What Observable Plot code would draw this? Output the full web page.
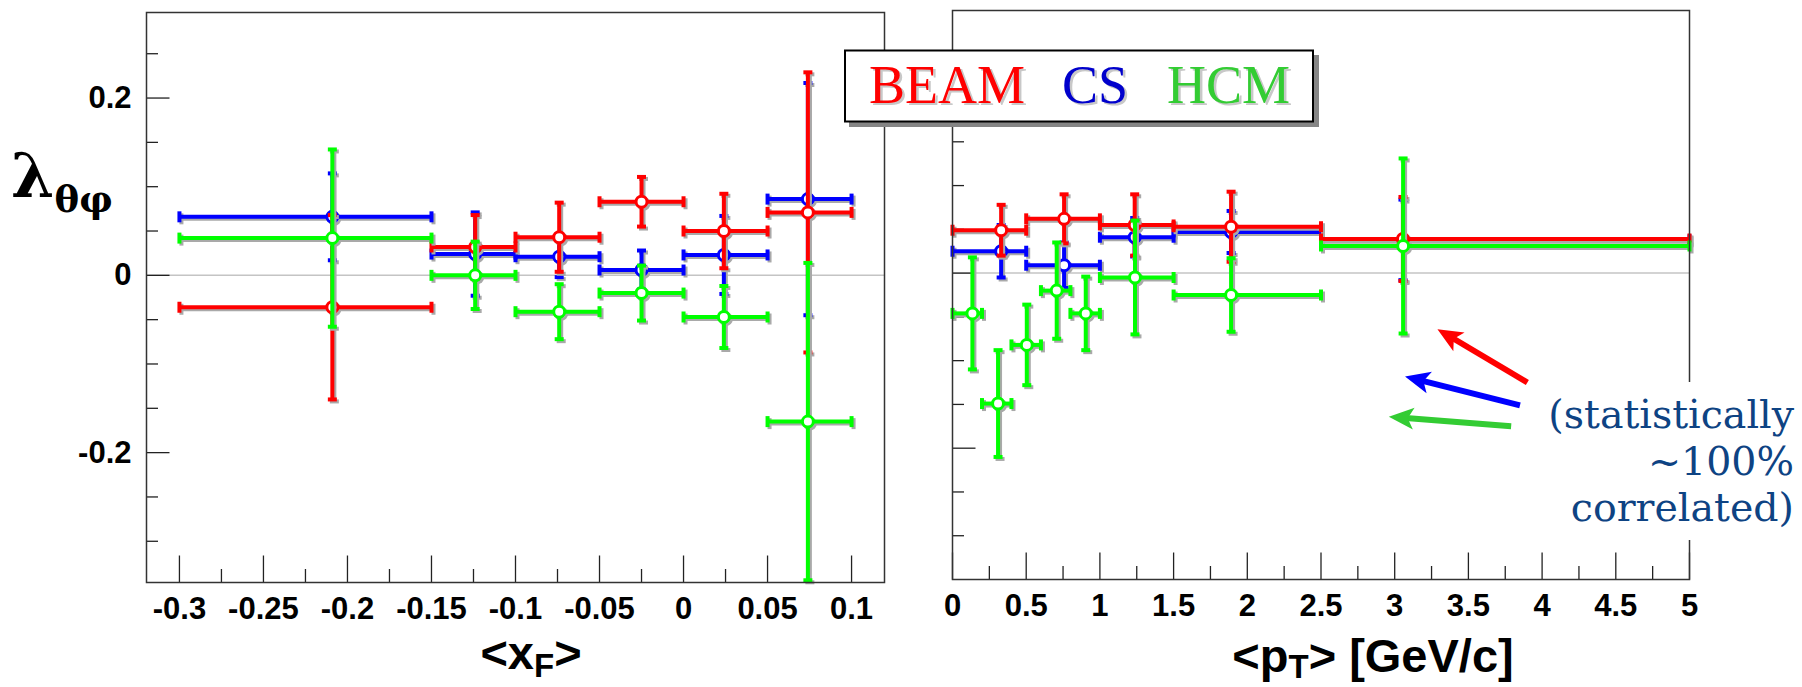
<!DOCTYPE html>
<html>
<head>
<meta charset="utf-8">
<script src="https://cdn.jsdelivr.net/npm/d3@7"></script>
<script src="https://cdn.jsdelivr.net/npm/@observablehq/plot@0.6"></script>
<style>
html, body { margin: 0; padding: 0; background: #fff; }
#wrap { position: relative; width: 1802px; height: 687px; overflow: hidden; background: #fff; }
#wrap > svg { position: absolute; }
</style>
</head>
<body>
<div id="wrap"></div>
<script>
// ---------------- DATA ----------------
// Left panel: lambda_theta_phi vs <xF>
const xfCenters = [-0.209, -0.124, -0.074, -0.025, 0.024, 0.074];
const xfLow     = [-0.30, -0.15, -0.10, -0.05, 0.00, 0.05];
const xfHigh    = [-0.15, -0.10, -0.05, 0.00, 0.05, 0.10];
const beamXF    = [-0.036, 0.032, 0.043, 0.083, 0.050, 0.071];
const beamXFerr = [0.104, 0.036, 0.039, 0.028, 0.042, 0.158];
const csXF      = [0.066, 0.024, 0.021, 0.006, 0.023, 0.086];
const csXFerr   = [0.049, 0.047, 0.023, 0.022, 0.044, 0.131];
const hcmXF     = [0.042, 0.000, -0.041, -0.020, -0.047, -0.165];
const hcmXFerr  = [0.100, 0.038, 0.031, 0.031, 0.035, 0.179];

// Right panel: lambda_theta_phi vs <pT>
const ptCenters   = [0.330, 0.757, 1.236, 1.890, 3.056];
const ptLow       = [0.0, 0.5, 1.0, 1.5, 2.5];
const ptHigh      = [0.5, 1.0, 1.5, 2.5, 5.0];
const beamPT      = [0.049, 0.062, 0.055, 0.053, 0.039];
const beamPTerr   = [0.029, 0.028, 0.035, 0.040, 0.048];
const csPT        = [0.025, 0.009, 0.041, 0.047, 0.038];
const csPTerr     = [0.030, 0.026, 0.022, 0.024, 0.046];
const hcmPtCenters = [0.135, 0.309, 0.504, 0.707, 0.904, 1.238, 1.890, 3.057];
const hcmPtLow     = [0.0, 0.2, 0.4, 0.6, 0.8, 1.0, 1.5, 2.5];
const hcmPtHigh    = [0.2, 0.4, 0.6, 0.8, 1.0, 1.5, 2.5, 5.0];
const hcmPT        = [-0.046, -0.149, -0.082, -0.020, -0.046, -0.005, -0.025, 0.031];
const hcmPTerr     = [0.064, 0.061, 0.046, 0.055, 0.042, 0.065, 0.042, 0.100];

// Tick values
const xfTickLabels  = [-0.3, -0.25, -0.2, -0.15, -0.1, -0.05, 0, 0.05, 0.1];
const xfMinorTicks  = [-0.275, -0.225, -0.175, -0.125, -0.075, -0.025, 0.025, 0.075];
const ptTickLabels  = [0, 0.5, 1, 1.5, 2, 2.5, 3, 3.5, 4, 4.5, 5];
const ptMinorTicks  = [0.25, 0.75, 1.25, 1.75, 2.25, 2.75, 3.25, 3.75, 4.25, 4.75];
const lamTickLabels = [-0.2, 0, 0.2];
const lamMinorTicks = [-0.3, -0.25, -0.15, -0.1, -0.05, 0.05, 0.1, 0.15, 0.25];

// Legend / annotation
const seriesNames  = ["BEAM", "CS", "HCM"];
const legendColors = ["#ff0000", "#0000cc", "#33cc33"];
const markColors   = {BEAM: "#ff0000", CS: "#0000ff", HCM: "#00ff00"};
const noteLines    = ["(statistically", "~100%", "correlated)"];
// arrows in right-panel data coordinates (pT, lambda)
const arrowTailPT  = [3.90, 3.85, 3.79];
const arrowTailLam = [-0.125, -0.151, -0.175];
const arrowTipPT   = [3.29, 3.07, 2.96];
const arrowTipLam  = [-0.064, -0.118, -0.164];
const arrowColors  = ["#ff0000", "#0000ff", "#33cc33"];

// ---------------- HELPERS ----------------
function rowsOf(xc, lo, hi, y, e) {
  return xc.map((x, i) => ({x, lo: lo[i], hi: hi[i], y: y[i], ylo: y[i] - e[i], yhi: y[i] + e[i]}));
}
const vcap = {draw(c) { c.moveTo(0, -5.5); c.lineTo(0, 5.5); }};
const hcap = {draw(c) { c.moveTo(-4.5, 0); c.lineTo(4.5, 0); }};
function tickSym(dx, dy, len) { return {draw(c) { c.moveTo(0, 0); c.lineTo(dx * len, dy * len); }}; }

function errMarks(rows, color, shadow) {
  const o = shadow ? {stroke: "#a9a9a9", dx: 2, dy: 2} : {stroke: color};
  return [
    Plot.ruleY(rows, {y: "y", x1: "lo", x2: "hi", strokeWidth: 4, ...o}),
    Plot.ruleX(rows, {x: "x", y1: "ylo", y2: "yhi", strokeWidth: 4, ...o}),
    Plot.dot(rows, {x: "lo", y: "y", symbol: vcap, fill: "none", strokeWidth: 4, ...o}),
    Plot.dot(rows, {x: "hi", y: "y", symbol: vcap, fill: "none", strokeWidth: 4, ...o}),
    Plot.dot(rows, {x: "x", y: "ylo", symbol: hcap, fill: "none", strokeWidth: 4, ...o}),
    Plot.dot(rows, {x: "x", y: "yhi", symbol: hcap, fill: "none", strokeWidth: 4, ...o}),
    Plot.dot(rows, {x: "x", y: "y", r: 5.5, fill: shadow ? "none" : "white", strokeWidth: 3, ...o})
  ];
}
function seriesMarks(rows, color) { return [...errMarks(rows, color, true), ...errMarks(rows, color, false)]; }

function frameTicks(xdom, ydom, xMajor, xMinor, yMajor, yMinor) {
  const s = {fill: "none", stroke: "#222", strokeWidth: 1.3};
  return [
    Plot.dot(yMajor, {x: () => xdom[0], y: d => d, symbol: tickSym(1, 0, 23), ...s}),
    Plot.dot(yMinor, {x: () => xdom[0], y: d => d, symbol: tickSym(1, 0, 11.5), ...s}),
    Plot.dot(xMajor, {x: d => d, y: () => ydom[0], symbol: tickSym(0, -1, 27), ...s}),
    Plot.dot(xMinor, {x: d => d, y: () => ydom[0], symbol: tickSym(0, -1, 13.5), ...s})
  ];
}

const wrap = document.getElementById("wrap");
const H = 687;
const tickStyle = {fontFamily: "'Liberation Sans', Arial, sans-serif", fontSize: "31px", fontWeight: "bold", color: "#000", background: "transparent", overflow: "visible"};

// ---------------- LEFT PANEL ----------------
const L = {W: 900, ml: 146, mr: 16, mt: 12, mb: 105, xdom: [-0.3196, 0.1196], ydom: [-0.3465, 0.2965]};
const leftPlot = Plot.plot({
  width: L.W, height: H,
  marginLeft: L.ml, marginRight: L.mr, marginTop: L.mt, marginBottom: L.mb,
  x: {domain: L.xdom, label: null, axis: null},
  y: {domain: L.ydom, label: null, axis: null},
  style: tickStyle,
  marks: [
    Plot.ruleY([0], {stroke: "#c4c4c4", strokeWidth: 1.5}),
    ...frameTicks(L.xdom, L.ydom, xfTickLabels, xfMinorTicks, lamTickLabels, lamMinorTicks),
    Plot.axisX(xfTickLabels, {anchor: "bottom", tickSize: 0, tickPadding: 14, tickFormat: d => String(d), label: null}),
    Plot.axisY(lamTickLabels, {anchor: "left", tickSize: 0, tickPadding: 15, tickFormat: d => String(d), label: null}),
    ...seriesMarks(rowsOf(xfCenters, xfLow, xfHigh, csXF, csXFerr), markColors.CS),
    ...seriesMarks(rowsOf(xfCenters, xfLow, xfHigh, beamXF, beamXFerr), markColors.BEAM),
    ...seriesMarks(rowsOf(xfCenters, xfLow, xfHigh, hcmXF, hcmXFerr), markColors.HCM),
    Plot.frame({stroke: "#333", strokeWidth: 1.5})
  ]
});
leftPlot.style.left = "0px"; leftPlot.style.top = "0px";
wrap.appendChild(leftPlot);

// ---------------- RIGHT PANEL ----------------
const R = {W: 902, ml: 52, mr: 113, mt: 10, mb: 108, xdom: [0, 5], ydom: [-0.35, 0.3]};
const kx = (R.W - R.ml - R.mr) / (R.xdom[1] - R.xdom[0]);
const ky = (H - R.mt - R.mb) / (R.ydom[1] - R.ydom[0]);
const arrows = arrowTailPT.map((x1, i) => {
  const x2 = arrowTipPT[i], y1 = arrowTailLam[i], y2 = arrowTipLam[i];
  const px = (x2 - x1) * kx, py = -(y2 - y1) * ky;
  const len = Math.hypot(px, py), ux = px / len, uy = py / len;
  return {x1, y1, x2, y2, xs: x2 - 14 * ux / kx, ys: y2 + 14 * uy / ky,
          angle: Math.atan2(py, px) * 180 / Math.PI, color: arrowColors[i]};
});
const arrowHead = {draw(c) { c.moveTo(0, 0); c.lineTo(-25, -11); c.lineTo(-19, 0); c.lineTo(-25, 11); c.closePath(); }};

const rightPlot = Plot.plot({
  width: R.W, height: H,
  marginLeft: R.ml, marginRight: R.mr, marginTop: R.mt, marginBottom: R.mb,
  x: {domain: R.xdom, label: null, axis: null},
  y: {domain: R.ydom, label: null, axis: null},
  style: tickStyle,
  marks: [
    Plot.ruleY([0], {stroke: "#c4c4c4", strokeWidth: 1.5}),
    ...frameTicks(R.xdom, R.ydom, ptTickLabels, ptMinorTicks, lamTickLabels, lamMinorTicks),
    Plot.axisX(ptTickLabels, {anchor: "bottom", tickSize: 0, tickPadding: 14, tickFormat: d => String(d), label: null}),
    ...seriesMarks(rowsOf(ptCenters, ptLow, ptHigh, csPT, csPTerr), markColors.CS),
    ...seriesMarks(rowsOf(ptCenters, ptLow, ptHigh, beamPT, beamPTerr), markColors.BEAM),
    ...seriesMarks(rowsOf(hcmPtCenters, hcmPtLow, hcmPtHigh, hcmPT, hcmPTerr), markColors.HCM),
    Plot.frame({stroke: "#333", strokeWidth: 1.5}),
    Plot.link(arrows, {x1: "x1", y1: "y1", x2: "xs", y2: "ys", stroke: "color", strokeWidth: 6}),
    Plot.dot(arrows, {x: "x2", y: "y2", symbol: arrowHead, rotate: "angle", fill: "color", stroke: "none"})
  ]
});
rightPlot.style.left = "900px"; rightPlot.style.top = "0px";
wrap.appendChild(rightPlot);

// ---------------- OVERLAY (titles, legend, note) ----------------
const ov = d3.create("svg").attr("width", 1802).attr("height", H)
  .style("left", "0px").style("top", "0px").style("overflow", "visible");

// legend box
ov.append("rect").attr("x", 849).attr("y", 55).attr("width", 470).attr("height", 72).attr("fill", "#858585");
ov.append("rect").attr("x", 845).attr("y", 50.5).attr("width", 468).attr("height", 71)
  .attr("fill", "white").attr("stroke", "#000").attr("stroke-width", 2);
const legX = [869, 1062, 1167];
seriesNames.forEach((name, i) => {
  [["#c8c8c8", 2.5], [legendColors[i], 0]].forEach(([col, off]) => {
    ov.append("text").attr("x", legX[i] + off).attr("y", 102.5 + off)
      .attr("font-family", "'Liberation Serif', 'Times New Roman', serif").attr("font-size", 54)
      .attr("fill", col).text(name);
  });
});

// note text with white background (covers the frame)
ov.append("rect").attr("x", 1532).attr("y", 382).attr("width", 270).attr("height", 158).attr("fill", "white");
const note = ov.append("text").attr("text-anchor", "end")
  .attr("font-family", "'DejaVu Serif', 'Liberation Serif', serif").attr("font-size", 39.5)
  .attr("fill", "#0e4383");
const noteBase = [428, 474.5, 521];
noteLines.forEach((t, i) => {
  note.append("tspan").attr("x", 1794).attr("y", noteBase[i]).text(t);
});

// axis titles
const sans = "'Liberation Sans', Arial, sans-serif";
const t1 = ov.append("text").attr("x", 531).attr("y", 669).attr("text-anchor", "middle")
  .attr("font-family", sans).attr("font-weight", "bold").attr("font-size", 47);
t1.append("tspan").text("<x");
t1.append("tspan").attr("font-size", 33).attr("dy", 8).text("F");
t1.append("tspan").attr("dy", -8).text(">");

const t2 = ov.append("text").attr("x", 1373).attr("y", 672).attr("text-anchor", "middle")
  .attr("font-family", sans).attr("font-weight", "bold").attr("font-size", 47);
t2.append("tspan").text("<p");
t2.append("tspan").attr("font-size", 33).attr("dy", 6).text("T");
t2.append("tspan").attr("dy", -6).text("> [GeV/c]");

const t3 = ov.append("text").attr("x", 11).attr("y", 197)
  .attr("font-family", "'DejaVu Serif', 'Liberation Serif', serif").attr("font-weight", "bold").attr("font-size", 62);
t3.append("tspan").text("λ");
t3.append("tspan").attr("font-size", 37).attr("dy", 15).text("θφ");

wrap.appendChild(ov.node());
</script>
</body>
</html>
